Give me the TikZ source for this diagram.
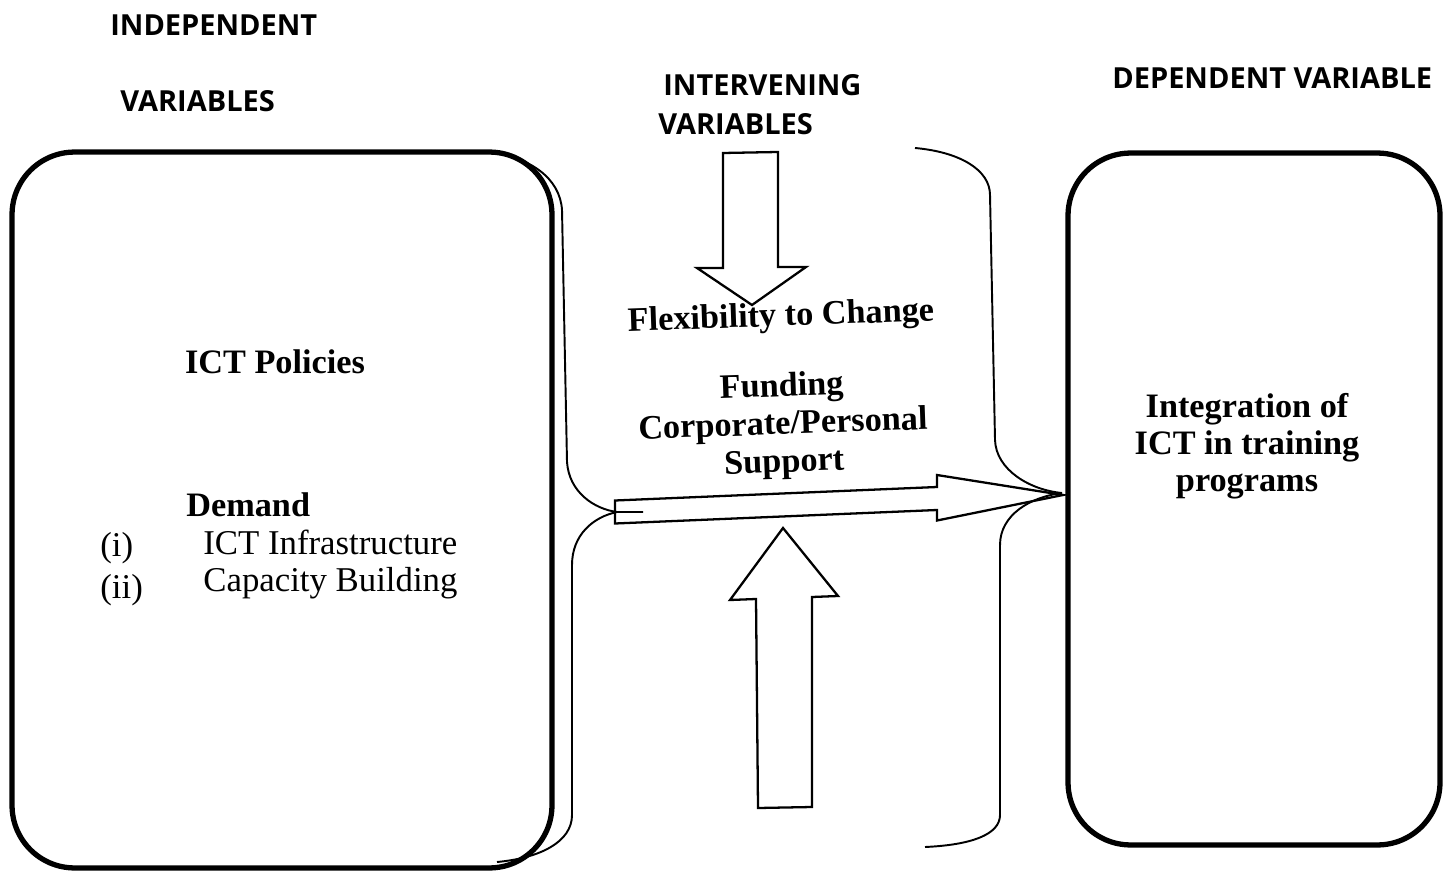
\documentclass[tikz,border=0pt]{standalone}
\usepackage{fontspec}
\setmainfont{Liberation Serif}
\newfontfamily\headfont{Open Sans}
\usepackage{tikz}
\usetikzlibrary{positioning}

\begin{document}
\begin{tikzpicture}[
  x=0.02cm, y=-0.02cm,
  heading/.style={anchor=west, font=\headfont\bfseries\fontsize{16.5}{19}\selectfont, inner sep=0pt},
  varbox/.style={draw, line width=3pt, rounded corners=1.25cm},
  bodytext/.style={font=\bfseries\fontsize{19.5}{21}\selectfont, align=center, inner sep=0pt},
  itemtext/.style={anchor=west, font=\fontsize{19.8}{21}\selectfont, inner sep=0pt},
  brace/.style={line width=1.1pt},
  blockarrow/.style={draw, line width=1.3pt, line join=miter}
]
\useasboundingbox (0,0) rectangle (1452,874);

% Kopfzeilen
\node[heading] (indep1) at (110,25) {INDEPENDENT};
\node[heading] (indep2) at (120,101) {VARIABLES};
\node[heading] (interv1) at (663,85) {INTERVENING};
\node[heading] (interv2) at (658,124) {VARIABLES};
\node[heading] (dep) at (1112,78) {DEPENDENT VARIABLE};

% Kaesten
\node[varbox, minimum width=10.8cm, minimum height=14.32cm] (policies) at (282,510) {};
\node[varbox, minimum width=7.44cm, minimum height=13.84cm] (integ) at (1254,499) {};

% Texte links
\node[bodytext] (ictpol) at (275,362) {ICT Policies};
\node[bodytext, anchor=west] (demand) at (186,505) {Demand};
\node[itemtext] (n1) at (100,548) {(i)};
\node[itemtext] (infra) at (203,542) {ICT Infrastructure};
\node[itemtext] (n2) at (100,590) {(ii)};
\node[itemtext] (capac) at (203,583) {Capacity Building};

% Texte Mitte
\node[bodytext, rotate=2] (flex) at (781,318) {Flexibility to Change};
\node[bodytext, rotate=2, font=\bfseries\fontsize{19.5}{21.5}\selectfont] (fund) at (783,426)
  {Funding\\Corporate/Personal\\Support};

% Text rechts
\node[bodytext] (integtxt) at (1247,446) {Integration of\\ICT in training\\programs};

% Klammern
\coordinate (ltip) at (617,512);
\coordinate (rtip) at (1062,493);
\draw[brace] (488,152) .. controls (530,157) and (560,178) .. (562,210)
  -- (567,462) .. controls (569,492) and (594,509) .. (ltip) -- (643,512);
\draw[brace] (ltip) .. controls (593,517) and (572,535) .. (572,565)
  -- (572,815) .. controls (572,842) and (540,858) .. (497,862);
\draw[brace] (915,148) .. controls (960,152) and (990,170) .. (990,195)
  -- (995,440) .. controls (996,470) and (1030,490) .. (rtip);
\draw[brace] (rtip) .. controls (1030,497) and (1000,515) .. (1000,545)
  -- (1000,815) .. controls (1000,835) and (970,845) .. (925,847);

% Blockpfeile
\draw[blockarrow] (ltip) ++(-2,-11.5) -- (937,487) -- (937,475) -- (1063,495)
  -- (937,520.5) -- (937,510) -- (615,523.5) -- cycle;
\draw[blockarrow] (723,153) -- (778,152) -- (778,267) -- (806,267) -- (752,305)
  -- (697,268) -- (723,268) -- cycle;
\draw[blockarrow] (758,808) -- (812,807) -- (812,597) -- (838,596) -- (783,528)
  -- (730,600) -- (756,599) -- cycle;
\end{tikzpicture}
\end{document}
